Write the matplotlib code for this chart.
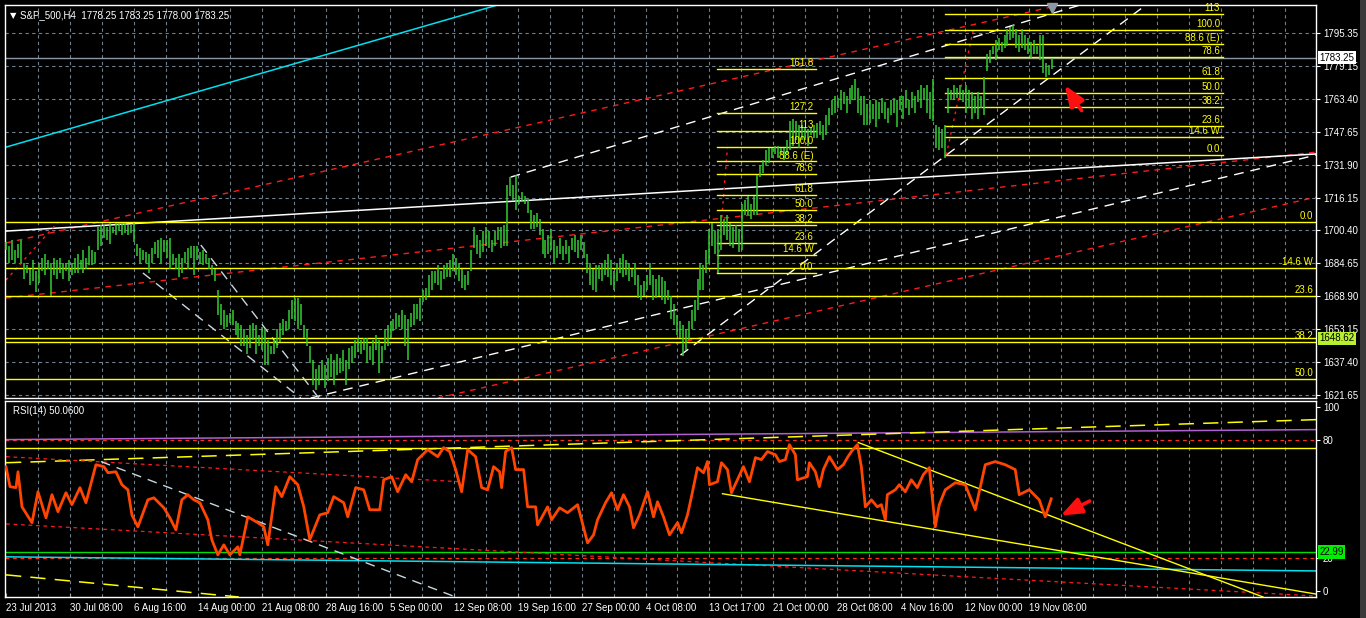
import numpy as np
import matplotlib
matplotlib.use('Agg')
import matplotlib.pyplot as plt
from matplotlib.transforms import blended_transform_factory

plt.rcParams['font.family'] = ['Liberation Sans', 'DejaVu Sans']

# ---------------- data ----------------
title_text = 'S&P_500,H4  1778.25 1783.25 1778.00 1783.25'
rsi_title = 'RSI(14) 50.0600'

date_labels = ['23 Jul 2013', '30 Jul 08:00', '6 Aug 16:00', '14 Aug 00:00', '21 Aug 08:00',
               '28 Aug 16:00', '5 Sep 00:00', '12 Sep 08:00', '19 Sep 16:00', '27 Sep 00:00',
               '4 Oct 08:00', '13 Oct 17:00', '21 Oct 00:00', '28 Oct 08:00', '4 Nov 16:00',
               '12 Nov 00:00', '19 Nov 08:00']
date_label_bar = [0, 32, 64, 96, 128, 160, 192, 224, 256, 288, 320, 352, 384, 416, 448, 480, 512]

price_ticks = [1795.35, 1779.15, 1763.40, 1747.65, 1731.90, 1716.15, 1700.40,
               1684.65, 1668.90, 1653.15, 1637.40, 1621.65]
rsi_tick_vals = [3.1, 20, 80, 96.7]
rsi_tick_text = ['0', '20', '80', '100']

# H4 bar highs / lows (~1.5 bars per sample)
highs = [1695, 1693, 1696, 1691, 1694, 1696,
         1685, 1684, 1682, 1686, 1681, 1685, 1687,
         1689, 1686, 1685, 1687, 1686, 1687, 1685, 1685, 1686, 1685,
         1687, 1689, 1686, 1691, 1687, 1693, 1691, 1690,
         1702, 1703, 1703, 1702, 1704,
         1702, 1704, 1704, 1704, 1704, 1703, 1703, 1704,
         1694, 1692, 1691, 1690, 1689,
         1692, 1695, 1696, 1697, 1696, 1696, 1697,
         1689, 1687, 1689, 1687, 1690, 1692, 1693, 1693,
         1693, 1690, 1691, 1689, 1687, 1684, 1682,
         1672, 1665, 1662, 1660, 1661, 1662, 1657,
         1656, 1655, 1653, 1650, 1655, 1656, 1655, 1650, 1654, 1653, 1648, 1645,
         1648, 1653, 1656, 1658, 1657, 1662, 1667, 1668, 1668, 1665, 1655,
         1653, 1645, 1638, 1634, 1636, 1638, 1636, 1639, 1641, 1638,
         1641, 1639, 1643, 1638,
         1644, 1645, 1648, 1649, 1648, 1649, 1649, 1645, 1648, 1650, 1648, 1645, 1653,
         1655, 1657, 1658, 1661, 1660, 1662, 1660, 1658, 1661, 1665, 1665, 1668,
         1672, 1673, 1679, 1681, 1681, 1684, 1681, 1684, 1685,
         1686, 1689, 1687, 1685, 1682, 1679, 1681, 1691,
         1702, 1698, 1696, 1700, 1702, 1700, 1696, 1700, 1702, 1702, 1703,
         1722, 1726, 1722, 1727, 1717, 1719, 1717, 1715, 1710, 1708, 1709, 1706,
         1701, 1696, 1698, 1701, 1696, 1693, 1697, 1693, 1696, 1693, 1697, 1698, 1696, 1698, 1695,
         1689, 1685, 1682, 1684, 1684, 1685, 1686, 1689, 1686, 1681,
         1685, 1687, 1689, 1686, 1685, 1682, 1685,
         1679, 1674, 1676, 1679, 1685, 1679, 1677, 1679, 1678, 1676, 1672,
         1669, 1665, 1660, 1657, 1655, 1653,
         1657, 1662, 1667, 1677, 1685,
         1684, 1691, 1701, 1704, 1700, 1701, 1708,
         1706, 1708, 1704, 1702, 1703, 1701, 1713,
         1715, 1717, 1713, 1717, 1727,
         1732, 1734, 1739, 1740, 1740, 1741,
         1741, 1740, 1740, 1744, 1753,
         1754, 1753, 1751, 1751, 1750, 1749, 1750, 1751, 1752, 1753, 1751, 1756, 1759,
         1763, 1765, 1764, 1768, 1767, 1765, 1769, 1770, 1773, 1769, 1765,
         1765, 1761, 1763, 1761, 1763, 1762, 1764, 1762, 1759, 1763, 1764, 1763, 1765,
         1765, 1768, 1763, 1767, 1765, 1768, 1770, 1769, 1770, 1767, 1773,
         1751, 1750, 1749, 1751,
         1769, 1768, 1770, 1769, 1770, 1768, 1770, 1768, 1767, 1765, 1767, 1765, 1774,
         1785, 1787, 1789, 1792, 1793, 1791, 1794, 1797, 1798, 1799, 1797,
         1794, 1797, 1794, 1793, 1791, 1792, 1789, 1794, 1794,
         1781, 1780, 1783]
lows = [1691, 1685, 1686, 1685, 1687, 1685,
        1677, 1680, 1674, 1676, 1671, 1675, 1681,
        1679, 1682, 1669, 1679, 1677, 1680, 1677, 1681, 1676, 1679,
        1680, 1680, 1682, 1680, 1682, 1684, 1684, 1685,
        1691, 1693, 1697, 1696, 1694,
        1699, 1698, 1700, 1698, 1699, 1698, 1699, 1695,
        1688, 1685, 1686, 1685, 1680,
        1685, 1689, 1687, 1685, 1690, 1687, 1682,
        1684, 1682, 1678, 1680, 1685, 1682, 1687, 1679,
        1686, 1685, 1684, 1685, 1682, 1679, 1676,
        1660, 1655, 1653, 1654, 1656, 1655, 1650,
        1649, 1645, 1645, 1641, 1644, 1648, 1641, 1645, 1643, 1636, 1636, 1641,
        1641, 1644, 1647, 1650, 1652, 1653, 1658, 1657, 1653, 1655, 1649,
        1645, 1637, 1626, 1624, 1626, 1629, 1625, 1628, 1630, 1626,
        1631, 1632, 1633, 1626,
        1634, 1637, 1639, 1642, 1641, 1643, 1637, 1638, 1636, 1643, 1632, 1637, 1643,
        1645, 1649, 1652, 1653, 1654, 1653, 1645, 1638, 1654, 1655, 1658, 1657,
        1666, 1667, 1669, 1672, 1675, 1674, 1672, 1677, 1678,
        1678, 1681, 1679, 1676, 1673, 1672, 1674, 1681,
        1692, 1689, 1687, 1690, 1693, 1692, 1690, 1693, 1696, 1692, 1693,
        1693, 1717, 1715, 1710, 1713, 1714, 1713, 1709, 1701, 1701, 1702, 1698,
        1689, 1687, 1689, 1691, 1685, 1687, 1689, 1686, 1689, 1685, 1691, 1690, 1687, 1691, 1687,
        1680, 1674, 1672, 1671, 1677, 1676, 1679, 1678, 1674, 1672,
        1676, 1680, 1678, 1679, 1676, 1678, 1674,
        1668, 1667, 1669, 1672, 1674, 1667, 1668, 1669, 1667, 1665, 1667,
        1658, 1655, 1650, 1649, 1640, 1643,
        1648, 1653, 1657, 1662, 1672,
        1672, 1680, 1685, 1693, 1689, 1680, 1691,
        1698, 1696, 1693, 1692, 1695, 1690, 1691,
        1708, 1708, 1706, 1708, 1708,
        1726, 1728, 1732, 1733, 1735, 1737,
        1735, 1737, 1734, 1737, 1739,
        1741, 1744, 1740, 1744, 1744, 1741, 1746, 1745, 1745, 1746, 1744, 1746, 1751,
        1756, 1757, 1759, 1758, 1761, 1757, 1761, 1763, 1763, 1757, 1756,
        1751, 1751, 1752, 1754, 1750, 1754, 1757, 1754, 1752, 1756, 1757, 1750, 1758,
        1754, 1759, 1756, 1759, 1757, 1762, 1759, 1763, 1757, 1754, 1753,
        1740, 1739, 1740, 1735,
        1757, 1763, 1763, 1764, 1763, 1762, 1757, 1759, 1754, 1757, 1754, 1759, 1756,
        1777, 1781, 1785, 1782, 1787, 1786, 1788, 1789, 1792, 1793, 1788,
        1786, 1788, 1787, 1785, 1783, 1785, 1785, 1782, 1776,
        1774, 1775, 1778]
first_bar, last_bar = 0, 523.5

# RSI(14): H4 bar index and value
rsi_bar = [0, 2, 5, 6, 8, 13, 16, 20, 23, 26, 30, 33, 37, 40, 45, 49, 51, 55, 58, 61,
           63, 66, 71, 74, 79, 82, 85, 88, 91, 94, 97, 101, 103, 106, 109, 112, 116, 117,
           121, 126, 129, 131, 135, 138, 142, 146, 149, 152, 157, 161, 164, 169, 171, 175,
           179, 182, 187, 189, 193, 196, 200, 203, 206, 211, 216, 219, 222, 225, 228, 231,
           235, 238, 241, 244, 247, 248, 250, 253, 255, 259, 261, 265, 266, 268, 271, 273,
           277, 281, 286, 288, 291, 294, 296, 300, 303, 306, 309, 312, 314, 317, 321, 324,
           326, 329, 332, 336, 338, 341, 343, 346, 349, 351, 352, 356, 358, 361, 363, 366,
           369, 372, 375, 378, 381, 385, 387, 390, 392, 395, 396, 401, 402, 405, 407, 409,
           412, 416, 419, 421, 423, 426, 428, 430, 433, 436, 438, 440, 441, 445, 447, 450,
           453, 456, 459, 462, 465, 467, 470, 475, 480, 485, 490, 495, 500, 505, 507, 512,
           517, 520, 523]
rsi_val = [66.5, 56.3, 55.8, 63.9, 46.0, 37.9, 53.7, 40.4, 52.2, 43.5, 53.2, 47.1, 55.8,
           48.1, 67.5, 66.5, 63.4, 63.9, 57.3, 54.7, 41.9, 35.8, 49.6, 50.6, 45.5, 40.4,
           34.3, 49.6, 52.2, 49.6, 48.1, 39.4, 29.2, 21.5, 26.6, 21.5, 25.6, 21.5, 40.9,
           37.9, 35.8, 26.6, 56.3, 51.2, 61.4, 57.3, 46.0, 29.2, 41.9, 43.0, 51.2, 48.1,
           40.9, 55.8, 54.7, 44.5, 44.5, 59.8, 61.4, 53.7, 62.4, 58.8, 70.1, 75.2, 71.6,
           76.2, 74.2, 65.0, 53.7, 75.2, 71.6, 55.8, 54.7, 66.5, 63.9, 55.8, 74.2, 76.2,
           65.0, 65.0, 46.0, 46.0, 36.8, 40.4, 46.0, 39.4, 45.5, 43.0, 47.1, 39.4, 27.6,
           31.7, 39.4, 48.1, 53.2, 44.5, 52.2, 46.0, 35.3, 41.9, 53.7, 40.9, 48.6, 40.9,
           31.7, 37.9, 32.7, 41.9, 51.2, 66.0, 63.4, 69.1, 57.3, 58.8, 68.5, 65.0, 53.2,
           59.8, 66.5, 58.8, 71.1, 70.1, 74.2, 72.6, 69.1, 70.1, 77.7, 72.6, 59.8, 61.4,
           68.5, 63.9, 56.3, 65.0, 71.6, 65.0, 67.5, 71.1, 74.2, 77.7, 66.5, 46.0, 49.6,
           46.0, 47.1, 39.4, 52.2, 54.7, 57.3, 53.7, 59.8, 55.8, 62.4, 66.0, 35.8, 47.1,
           54.7, 58.3, 57.3, 44.5, 67.5, 69.1, 67.5, 65.0, 52.2, 54.7, 49.6, 40.9, 50.1]

# Fibonacci retracements: (anchor 0 price, anchor 100 price, bar start, bar end)
fib1_p0, fib1_p100, fib1_bar0, fib1_bar1 = 1704.4, 1554.0, 0, 655.5
fib1_levels = [0.0, 14.6, 23.6, 38.2, 50.0]
fib1_labels = ['0.0', '14.6 W', '23.6', '38.2', '50.0']
fib2_p0, fib2_p100, fib2_bar0, fib2_bar1 = 1680.0, 1740.4, 356, 405.5
fib2_levels = [0.0, 14.6, 23.6, 38.2, 50.0, 61.8, 78.6, 88.6, 100.0, 113.0, 127.2, 161.8]
fib2_labels = ['0.0', '14.6 W', '23.6', '38.2', '50.0', '61.8', '78.6', '88.6 (E)', '100.0',
               '113', '127.2', '161.8']
fib3_p0, fib3_p100, fib3_bar0, fib3_bar1 = 1736.6, 1796.6, 470, 609
fib3_levels = [0.0, 14.6, 23.6, 38.2, 50.0, 61.8, 78.6, 88.6, 100.0, 113.0]
fib3_labels = ['0.0', '14.6 W', '23.6', '38.2', '50.0', '61.8', '78.6', '88.6 (E)', '100.0', '113']
fib_diag_bars = [(0, 26), (356, 361), (470.5, 484)]
fib_diag_prices = [(1676.6, 1704.4), (1680.0, 1740.4), (1736.6, 1796.6)]

# trend lines on price panel: (bar1, price1, bar2, price2)
cyan_line = (0, 1740.4, 246, 1808.6)
red_dash_lines = [(0, 1694.4, 527.5, 1808.6), (0, 1668.0, 655.5, 1738.0), (216, 1620.0, 655.5, 1716.4)]
white_solid_line = (0, 1700.1, 655.5, 1737.1)
white_dash_lines = [(152.5, 1620.0, 655.5, 1736.6), (252.5, 1726.0, 537.5, 1808.6),
                    (337.5, 1640.6, 569, 1807.6)]
grey_dash_lines = [(68.5, 1680.0, 147.5, 1620.0), (97.5, 1693.4, 156.5, 1620.0)]
last_price = 1783.25
hline_price = 1648.62

# RSI panel lines
rsi_levels = [80, 20]
rsi_yellow_h = 76.2
rsi_green_h = 22.99
rsi_purple = (0, 80.3, 655.5, 85.4)
rsi_yellow_dash_up = (0, 68.5, 655.5, 90.5)
rsi_yellow_dash_low = (0, 11.3, 116.5, 0.0)
rsi_red_dash = [(0, 71.6, 227.5, 58.8), (0, 37.3, 655.5, 0.5)]
rsi_cyan = (0, 20.5, 655.5, 13.3)
rsi_grey_dash = (47.5, 69.1, 225, 0.0)
rsi_yellow_solid = [(426.5, 78.8, 629, 0.0), (358.5, 52.7, 655.5, 1.5)]

# ---------------- figure ----------------
W, H = 1366, 618
fig = plt.figure(figsize=(W / 100, H / 100), dpi=100, facecolor='black')
ax = fig.add_axes([5 / W, 1 - 398 / H, 1311 / W, 393 / H])
ax2 = fig.add_axes([5 / W, 1 - 597 / H, 1311 / W, 196 / H], sharex=ax)

GRID = '#6f7f8f'
YEL = '#ffff00'
FS = 7

for a in (ax, ax2):
    a.set_facecolor('black')
    for s in a.spines.values():
        s.set_color('white')
        s.set_linewidth(1.0)
    a.yaxis.tick_right()
    a.tick_params(axis='y', colors='white', labelcolor='white', labelsize=FS, length=3, width=0.8, pad=2)
    for gb in range(16, 656, 16):
        a.axvline(gb, color=GRID, lw=0.8, ls=(0, (3, 3)), zorder=0.5)

ax.set_xlim(-0.5, 655.5)
ax.set_ylim(1620.0, 1808.6)
ax2.set_ylim(0, 100)

ax.set_yticks(price_ticks)
ax.set_yticklabels(['%.2f' % v for v in price_ticks])
for pv in price_ticks:
    ax.axhline(pv, color=GRID, lw=0.8, ls=(0, (3, 3)), zorder=0.5)

ax2.set_yticks(rsi_tick_vals)
ax2.set_yticklabels(rsi_tick_text)

ax.tick_params(axis='x', bottom=False, labelbottom=False)
ax2.set_xticks(date_label_bar)
ax2.set_xticklabels(date_labels, ha='left')
ax2.tick_params(axis='x', colors='#9aa5b1', labelcolor='white', labelsize=FS, length=3, width=0.8,
                direction='in', pad=4)

def seg(a, L, **kw):
    a.plot([L[0], L[2]], [L[1], L[3]], **kw)

# ---- price panel objects ----
seg(ax, cyan_line, color='#00e0f0', lw=1.1, zorder=2)
for L in red_dash_lines:
    seg(ax, L, color='#ff1a1a', lw=1.0, ls=(0, (4, 4)), zorder=2)
seg(ax, white_solid_line, color='white', lw=1.1, zorder=2)
for L in white_dash_lines:
    seg(ax, L, color='white', lw=1.0, ls=(0, (7, 5)), zorder=2)
for L in grey_dash_lines:
    seg(ax, L, color='#c8d8e0', lw=1.0, ls=(0, (7, 5)), zorder=2)
for (b0, b1), (p0, p1) in zip(fib_diag_bars, fib_diag_prices):
    ax.plot([b0, b1], [p0, p1], color='#ff1a1a', lw=1.0, ls=(0, (2, 3)), zorder=2)

ax.axhline(last_price, color='#8a96a3', lw=1.0, zorder=1.5)
ax.axhline(hline_price, color=YEL, lw=1.0, zorder=2)

def draw_fib(p0, p100, b0, b1, levels, labels):
    for lv, lb in zip(levels, labels):
        pr = p0 + (p100 - p0) * lv / 100.0
        ax.plot([b0, b1], [pr, pr], color=YEL, lw=1.0, zorder=2.2)
        ax.text(b1 - 1.5, pr + 0.4, lb, color=YEL, fontsize=FS, ha='right', va='bottom', zorder=4)

draw_fib(fib1_p0, fib1_p100, fib1_bar0, fib1_bar1, fib1_levels, fib1_labels)
draw_fib(fib2_p0, fib2_p100, fib2_bar0, fib2_bar1, fib2_levels, fib2_labels)
draw_fib(fib3_p0, fib3_p100, fib3_bar0, fib3_bar1, fib3_levels, fib3_labels)

bar_x = np.linspace(first_bar, last_bar, len(highs))
ax.vlines(bar_x, lows, highs, color='#33cc33', lw=1.1, zorder=3)

ax.annotate('', xy=(529, 1771.2), xytext=(539, 1756.8),
            arrowprops=dict(arrowstyle='-|>,head_width=0.35,head_length=0.9', color='#ff1010',
                            lw=2.6, mutation_scale=14), zorder=5)
ax.plot([last_bar], [1807.2], marker='v', color='#8c98a4', markersize=7, zorder=5, clip_on=False)

ax.text(0.0035, 0.984, '\u25bc', transform=ax.transAxes, color='white', fontsize=6,
        ha='left', va='top', family='DejaVu Sans')
ax.text(0.0115, 0.988, title_text, transform=ax.transAxes, color='white',
        fontsize=FS, ha='left', va='top')

tr = blended_transform_factory(ax.transAxes, ax.transData)
ax.text(1.0025, last_price, '%.2f' % last_price, transform=tr, color='black', fontsize=FS,
        ha='left', va='center', zorder=10, clip_on=False,
        bbox=dict(facecolor='white', edgecolor='none', pad=1.2))
ax.text(1.0025, hline_price, '%.2f' % hline_price, transform=tr, color='black', fontsize=FS,
        ha='left', va='center', zorder=10, clip_on=False,
        bbox=dict(facecolor='#b8f030', edgecolor='none', pad=1.2))

# ---- RSI panel ----
for lv in rsi_levels:
    ax2.axhline(lv, color='#ff3010', lw=0.9, ls=(0, (3, 3)), zorder=1)
ax2.axhline(rsi_yellow_h, color=YEL, lw=1.0, zorder=2)
ax2.axhline(rsi_green_h, color='#00e000', lw=1.0, zorder=2)
seg(ax2, rsi_purple, color='#b060d0', lw=1.1, zorder=2)
seg(ax2, rsi_yellow_dash_up, color=YEL, lw=1.1, ls=(0, (10, 6)), zorder=2)
seg(ax2, rsi_yellow_dash_low, color=YEL, lw=1.1, ls=(0, (10, 6)), zorder=2)
for L in rsi_red_dash:
    seg(ax2, L, color='#ff1a1a', lw=0.9, ls=(0, (3, 3)), zorder=2)
seg(ax2, rsi_cyan, color='#00e0f0', lw=1.1, zorder=2)
seg(ax2, rsi_grey_dash, color='#c8d8e0', lw=1.0, ls=(0, (7, 5)), zorder=2)
for L in rsi_yellow_solid:
    seg(ax2, L, color=YEL, lw=1.0, zorder=2)

ax2.plot(rsi_bar, rsi_val, color='#ff4500', lw=2.0, zorder=3, solid_joinstyle='round')

ax2.annotate('', xy=(526.5, 40.9), xytext=(543.5, 49.6),
             arrowprops=dict(arrowstyle='-|>,head_width=0.35,head_length=0.9', color='#ff1010',
                             lw=2.6, mutation_scale=14), zorder=5)

ax2.text(0.006, 0.975, rsi_title, transform=ax2.transAxes, color='white', fontsize=FS,
         ha='left', va='top')
tr2 = blended_transform_factory(ax2.transAxes, ax2.transData)
ax2.text(1.0025, rsi_green_h, '%.2f' % rsi_green_h, transform=tr2, color='black', fontsize=FS,
         ha='left', va='center', zorder=10, clip_on=False,
         bbox=dict(facecolor='#00ee00', edgecolor='none', pad=1.2))

# right scrollbar edge
fig.patches.append(plt.Rectangle((1360 / W, 0), 6 / W, 1, transform=fig.transFigure,
                                 facecolor='#3a3a3a', edgecolor='none'))

fig.savefig('out.png', dpi=100, facecolor='black')
